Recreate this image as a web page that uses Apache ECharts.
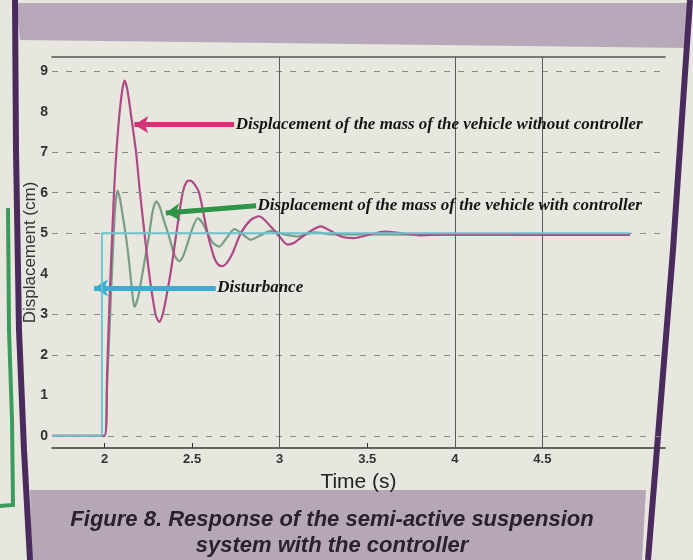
<!DOCTYPE html>
<html><head><meta charset="utf-8">
<script src="https://cdn.jsdelivr.net/npm/echarts@6/dist/echarts.min.js"></script>
<style>html,body{margin:0;padding:0;background:#e7e6df;}#c{width:693px;height:560px;}</style>
</head><body><div id="c"></div>
<script>
// ---- data ----
const xTicks = [2, 2.5, 3, 3.5, 4, 4.5];
const xTickLabels = ['2', '2.5', '3', '3.5', '4', '4.5'];
const yTicks = [0, 1, 2, 3, 4, 5, 6, 7, 8, 9];
const dashedGridY = [0, 2, 3, 5, 6, 7, 9];
const solidGridX = [3, 4, 4.5];

// Displacement of the mass of the vehicle without controller
const timeWithout = [1.7, 2.0, 2.015, 2.028, 2.047, 2.06, 2.08, 2.1, 2.114, 2.13, 2.155, 2.18, 2.2, 2.228, 2.255, 2.275, 2.294, 2.313, 2.335, 2.36, 2.38, 2.41, 2.446, 2.47, 2.49, 2.515, 2.54, 2.588, 2.626, 2.65, 2.674, 2.7, 2.73, 2.778, 2.835, 2.883, 2.95, 3.006, 3.044, 3.08, 3.14, 3.234, 3.29, 3.35, 3.42, 3.5, 3.6, 3.7, 3.8, 4.0, 4.5, 5.0];
const dispWithout = [0, 0, 1.6, 3.3, 5.3, 6.5, 7.7, 8.5, 8.77, 8.55, 7.8, 7.0, 6.1, 5.0, 4.0, 3.4, 2.95, 2.81, 3.05, 3.6, 4.1, 5.0, 6.0, 6.28, 6.3, 6.2, 6.0, 5.0, 4.4, 4.22, 4.19, 4.28, 4.5, 5.0, 5.33, 5.42, 5.16, 4.88, 4.72, 4.76, 4.95, 5.17, 5.06, 4.92, 4.88, 4.95, 5.04, 5.0, 4.95, 4.98, 4.96, 4.96];

// Displacement of the mass of the vehicle with controller
const timeWith = [1.7, 2.0, 2.015, 2.03, 2.05, 2.062, 2.074, 2.088, 2.105, 2.123, 2.14, 2.152, 2.171, 2.19, 2.21, 2.228, 2.256, 2.275, 2.295, 2.315, 2.34, 2.37, 2.4, 2.427, 2.45, 2.474, 2.5, 2.532, 2.56, 2.588, 2.62, 2.655, 2.7, 2.741, 2.79, 2.835, 2.89, 2.95, 3.02, 3.1, 3.2, 3.3, 3.5, 4.0, 5.0];
const dispWith = [0, 0, 1.3, 2.8, 4.8, 5.7, 6.05, 5.85, 5.4, 4.9, 4.3, 3.8, 3.18, 3.4, 3.85, 4.3, 5.0, 5.55, 5.79, 5.65, 5.3, 4.9, 4.45, 4.31, 4.45, 4.75, 5.1, 5.37, 5.25, 5.0, 4.76, 4.67, 4.9, 5.1, 4.97, 4.84, 4.95, 5.06, 4.98, 4.92, 5.02, 4.97, 4.97, 4.96, 4.96];

// Disturbance (step)
const timeDist = [1.7, 1.985, 1.985, 5.0];
const dispDist = [0, 0, 5, 5];

const annotationTexts = [
  'Displacement of the mass of the vehicle without controller',
  'Displacement of the mass of the vehicle with controller',
  'Disturbance'
];
const captionLines = ['Figure 8. Response of the semi-active suspension', 'system with the controller'];

// ---- annotation layout (data coordinates) ----
const annoArrowFrom = [[2.74, 7.68], [2.865, 5.68], [2.635, 3.65]];
const annoArrowTo = [[2.17, 7.68], [2.35, 5.5], [1.94, 3.65]];
const annoColors = ['#d13576', '#2f9446', '#3aaed2'];

const zip = (a, b) => a.map((v, i) => [v, b[i]]);

const chart = echarts.init(document.getElementById('c'), null, {renderer: 'canvas'});
const narrow = "'Liberation Sans Narrow', 'Arial Narrow', 'Liberation Sans', sans-serif";
const serif = "'Liberation Serif', 'DejaVu Serif', serif";

const option = {
  backgroundColor: '#e7e6df',
  animation: false,
  graphic: [
    {type: 'rect', z: -20, shape: {x: 0, y: 0, width: 693, height: 560}, style: {fill: '#e7e6df'}},
    {type: 'polygon', z: -19, shape: {points: [[16, 3], [690, 3], [688, 48], [20, 40]]}, style: {fill: '#b8a9ba'}},
    {type: 'polygon', z: -19, shape: {points: [[30, 490], [646, 490], [642, 560], [32, 560]]}, style: {fill: '#b6a7b7'}},
    {type: 'polyline', z: -18, shape: {points: [[15, 0], [16, 150], [19, 330], [24, 450], [30, 560]]}, style: {stroke: '#4a2b5e', lineWidth: 6, fill: null}},
    {type: 'polyline', z: -18, shape: {points: [[690, 0], [673, 250], [648, 560]]}, style: {stroke: '#4a2b5e', lineWidth: 6, fill: null}},
    {type: 'polyline', z: -18, shape: {points: [[8, 208], [9, 330], [12, 420], [13, 505], [0, 506]]}, style: {stroke: '#3b9a5c', lineWidth: 4, fill: null}},
    {type: 'text', z: 10, style: {text: captionLines[0], x: 332, y: 520, align: 'center', verticalAlign: 'middle', font: "italic bold 22px 'Liberation Sans', Arial, sans-serif", fill: '#2a2030'}},
    {type: 'text', z: 10, style: {text: captionLines[1], x: 332, y: 546, align: 'center', verticalAlign: 'middle', font: "italic bold 22px 'Liberation Sans', Arial, sans-serif", fill: '#2a2030'}}
  ],
  grid: {left: 52, right: 28, top: 57, bottom: 112, show: false},
  xAxis: [{
    type: 'value', min: 1.7, max: 5.2, position: 'bottom',
    axisLine: {show: true, onZero: false, lineStyle: {color: '#3a3a3a', width: 1.6}},
    axisTick: {show: true, inside: true, length: 5, customValues: xTicks, lineStyle: {color: '#333'}},
    axisLabel: {customValues: xTicks, formatter: v => xTickLabels[xTicks.indexOf(v)] ?? '', color: '#333', fontWeight: 'bold', fontSize: 13, fontFamily: narrow, margin: 5},
    splitLine: {show: false},
    name: 'Time (s)', nameLocation: 'middle', nameGap: 24,
    nameTextStyle: {fontSize: 21, color: '#222', fontFamily: narrow}
  }, {
    type: 'value', min: 1.7, max: 5.2, position: 'top',
    axisLine: {show: true, onZero: false, lineStyle: {color: '#555', width: 1.6}},
    axisTick: {show: false}, axisLabel: {show: false}, splitLine: {show: false}
  }],
  yAxis: {
    type: 'value', min: -0.3, max: 9.35,
    axisLine: {show: false}, axisTick: {show: false},
    axisLabel: {customValues: yTicks, color: '#333', fontWeight: 'bold', fontSize: 14, fontFamily: narrow, margin: 4},
    splitLine: {show: false},
    name: 'Displacement (cm)', nameLocation: 'middle', nameGap: 13, nameRotate: 90, nameMoveOverlap: false,
    nameTextStyle: {fontSize: 17, color: '#333', fontFamily: "'Liberation Sans', sans-serif"}
  },
  series: [
    {
      name: 'grid', type: 'line', data: [], silent: true, z: 1,
      markLine: {
        silent: true, symbol: 'none', label: {show: false},
        data: dashedGridY.map(v => ({yAxis: v, lineStyle: {color: '#8c8c88', type: [6, 8], width: 1}}))
          .concat(solidGridX.map(v => ({xAxis: v, lineStyle: {color: '#5a5a5a', type: 'solid', width: 1}})))
      }
    },
    {
      name: annotationTexts[1], type: 'line', data: zip(timeWith, dispWith), showSymbol: false, smooth: 0.25,
      lineStyle: {color: '#799e86', width: 2.2}, z: 3
    },
    {
      name: annotationTexts[0], type: 'line', data: zip(timeWithout, dispWithout), showSymbol: false, smooth: 0.25,
      lineStyle: {color: '#ad4a86', width: 2.2}, z: 4
    },
    {
      name: annotationTexts[2], type: 'line', data: zip(timeDist, dispDist), showSymbol: false,
      lineStyle: {color: '#6cc2cc', width: 1.8}, z: 5
    },
    {
      name: 'annotations', type: 'line', data: [], silent: true, z: 6,
      markLine: {
        silent: true, symbol: ['none', 'arrow'], symbolSize: [13, 14], label: {show: false},
        data: annoArrowFrom.map((f, i) => [
          {coord: f, lineStyle: {color: annoColors[i], width: 5, type: 'solid'}, itemStyle: {color: annoColors[i]}},
          {coord: annoArrowTo[i]}
        ])
      },
      markPoint: {
        silent: true, symbol: 'rect', symbolSize: 1, itemStyle: {color: 'rgba(0,0,0,0)'},
        data: annoArrowFrom.map((f, i) => ({
          coord: f,
          label: {show: true, position: 'right', distance: 1, formatter: annotationTexts[i],
            fontFamily: serif, fontStyle: 'italic', fontWeight: 'bold', fontSize: 17, color: '#151515'}
        }))
      }
    }
  ]
};
chart.setOption(option);
</script></body></html>
